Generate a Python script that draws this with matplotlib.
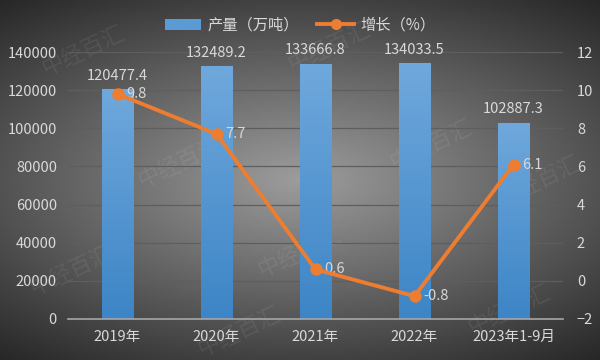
import numpy as np
import matplotlib.pyplot as plt
from matplotlib.lines import Line2D
from matplotlib.patches import Patch
from matplotlib.colors import LinearSegmentedColormap

plt.rcParams['font.family'] = ['Noto Sans CJK SC', 'DejaVu Sans']

years = ['2019年', '2020年', '2021年', '2022年', '2023年1-9月']
output = [120477.4, 132489.2, 133666.8, 134033.5, 102887.3]
growth = [9.8, 7.7, 0.6, -0.8, 6.1]

txt = '#d9d9d9'
grid = '#5e5e5e'
bar_col = '#5b9bd5'
line_col = '#ed7d31'

fig = plt.figure(figsize=(6, 3.6), dpi=100)

# dark radial background
bg = fig.add_axes([0, 0, 1, 1])
yy, xx = np.mgrid[-1:1:200j, -1:1:300j]
r = np.sqrt((xx * 0.9) ** 2 + (yy * 1.1) ** 2)
bg.imshow(-r, cmap='gray', vmin=-1.9, vmax=1.2, aspect='auto', extent=[0, 1, 0, 1])
bg.axis('off')

# faint watermarks
for wx, wy in [(0.14, 0.86), (0.55, 0.87), (0.9, 0.5), (0.3, 0.55), (0.72, 0.6),
               (0.5, 0.3), (0.12, 0.25), (0.85, 0.14), (0.4, 0.08)]:
    bg.text(wx, wy, '中经百汇', color='white', alpha=0.07, fontsize=16,
            rotation=25, ha='center', va='center', transform=bg.transAxes)

ax = fig.add_axes([68 / 600, 41 / 360, 495 / 600, 267 / 360])
ax.patch.set_alpha(0)
x = np.arange(len(years))

bars = ax.bar(x, output, width=0.32, color=bar_col, zorder=2)
# vertical gradient on bars
cmap = LinearSegmentedColormap.from_list('g', ['#3d85c6', '#6fa8dc'])
for b in bars:
    bx, by = b.get_x(), b.get_y()
    w, h = b.get_width(), b.get_height()
    grad = np.linspace(0, 1, 100).reshape(-1, 1)
    im = ax.imshow(grad, cmap=cmap, origin='lower', aspect='auto',
                   extent=[bx, bx + w, by, by + h], zorder=2)
    im.set_clip_path(b)

ax.set_xlim(-0.5, 4.5)
ax.set_ylim(0, 140000)
ax.set_yticks(range(0, 140001, 20000))
ax.set_xticks(x)
ax.set_xticklabels(years)
ax.yaxis.grid(True, color=grid, linewidth=0.9, zorder=0)
ax.tick_params(colors=txt, labelsize=10.5, length=0, pad=8)
for s in ['top', 'right', 'left']:
    ax.spines[s].set_visible(False)
ax.spines['bottom'].set_color('#a6a6a6')
ax.spines['bottom'].set_linewidth(1.2)

for i, v in enumerate(output):
    ax.text(i, v + 3500, f'{v:.1f}', ha='center', va='bottom', color=txt, fontsize=10.5)

ax2 = ax.twinx()
ax2.set_ylim(-2, 12)
ax2.set_yticks(range(-2, 13, 2))
ax2.plot(x, growth, color=line_col, linewidth=2.8, marker='o', markersize=8, zorder=5)
ax2.tick_params(colors=txt, labelsize=10.5, length=0, pad=10)
for s in ['top', 'right', 'left', 'bottom']:
    ax2.spines[s].set_visible(False)
for i, v in enumerate(growth):
    ax2.text(i + 0.09, v, f'{v}', ha='left', va='center', color=txt, fontsize=10.5)

handles = [Patch(facecolor=bar_col, edgecolor='none'),
           Line2D([0], [0], color=line_col, linewidth=2.8, marker='o', markersize=7)]
fig.legend(handles, ['产量（万吨）', '增长（%）'], loc='center', bbox_to_anchor=(0.5, 0.93),
           ncol=2, frameon=False, fontsize=11, labelcolor=txt, handlelength=2.4,
           columnspacing=1.2, handletextpad=0.4)

fig.savefig('out.png', dpi=100)
